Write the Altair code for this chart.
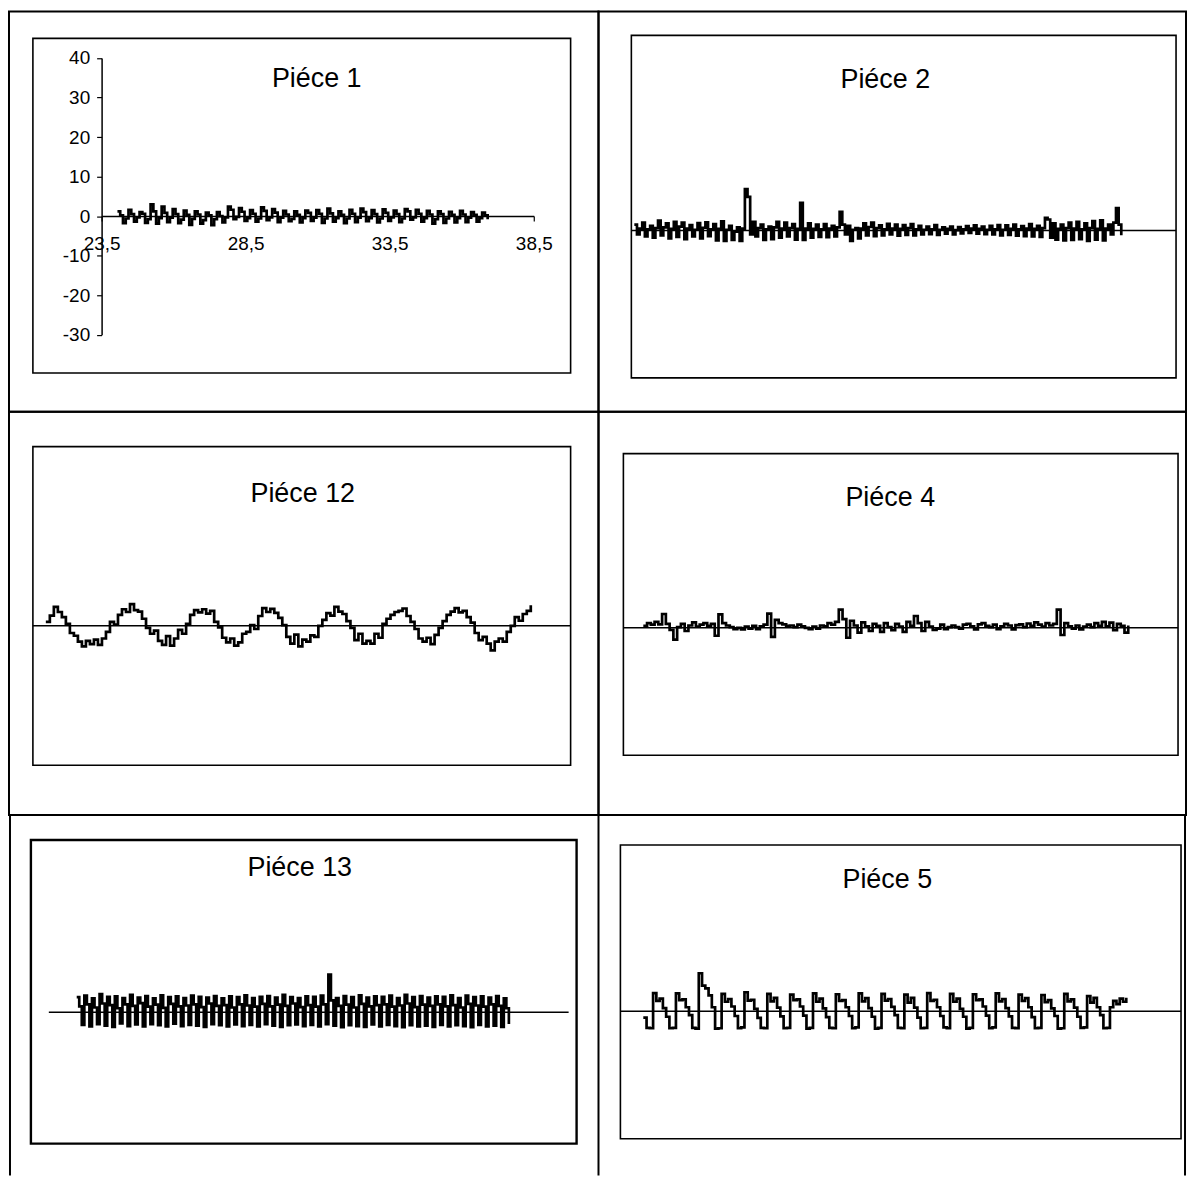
import altair as alt
import pandas as pd

FONT = "Liberation Sans"
TITLES = ["Piéce 1", "Piéce 2", "Piéce 12", "Piéce 4", "Piéce 13", "Piéce 5"]

# Pièce 1: measured deviation along 24.05 .. 36.9 (x in mm)
P1_X_START, P1_X_END = 24.05, 36.9
P1_TICKS_X = [23.5, 28.5, 33.5, 38.5]
P1_TICKS_Y = [-30, -20, -10, 0, 10, 20, 30, 40]
P1 = [1.2, 0.2, -1.8, -0.6, 1.6, 0.5, -1.4, -0.3, 1.0, 0.6, -1.7, -0.8,
      3.0, 1.2, -1.9, -0.5, 2.4, 0.8, -1.5, -0.4, 1.8, 0.5, -1.8, -0.9,
      1.4, 0.3, -2.2, -0.7, 1.2, 0.4, -1.9, -1.0, 0.9, 0.2, -2.3, -0.8,
      1.0, 0.0, -1.6, -0.3, 2.4, 1.6, -0.8, -0.2, 2.0, 1.1, -1.2, -0.5,
      1.5, 0.6, -1.4, -0.6, 2.2, 1.3, -1.0, -0.3, 1.8, 0.9, -1.5, -0.4,
      1.3, 0.4, -1.3, -0.7, 1.2, 0.3, -1.6, -0.5, 1.4, 0.8, -1.2, -0.4,
      1.5, 0.6, -1.7, -0.6, 1.9, 0.7, -1.4, -0.5, 1.2, 0.3, -1.8, -0.6,
      1.6, 0.6, -1.5, -0.4, 1.9, 1.0, -1.3, -0.5, 1.5, 0.5, -1.6, -0.6,
      1.7, 0.8, -1.2, -0.3, 1.4, 0.5, -1.5, -0.6, 1.8, 1.2, -0.9, -0.3,
      1.6, 0.6, -1.4, -0.5, 1.3, 0.4, -1.9, -0.8, 1.2, 0.5, -1.7, -0.6,
      1.1, 0.3, -1.6, -0.5, 1.3, 0.4, -1.5, -0.4, 1.0, 0.3, -1.4, -0.5,
      0.9, 0.2, -0.8]

P2 = [1.5, -1.0, 0.5, 2.0, -1.5, 0.3, 1.2, -1.8, 0.6, 2.5, -1.2, 0.8,
      1.8, -2.0, 0.4, 2.2, -1.6, 1.0, 2.0, -2.2, 0.5, 1.4, -1.5, 0.2,
      1.9, -2.0, 0.7, 2.1, -1.4, 0.3, 1.6, -2.5, 0.4, 2.3, -2.6, 0.2,
      1.2, -2.4, -0.3, 0.8, -2.6, 0.5, 10.5, 8.5, -1.0,
      2.2, -1.5, 0.6, 1.5, -2.4, 0.3, 1.0, -2.2, 0.8, 2.2, -1.8, 0.5,
      2.0, -1.5, 0.6, 1.6, -2.3, 0.4, 7.0, -2.4, 0.5,
      1.8, -1.8, 0.4, 1.5, -1.6, 0.3, 1.6, -1.7, 0.5, 1.2, -1.5, 0.8,
      4.7, 1.5, -1.0,
      1.2, -2.6, 0.2, 0.6, -2.0, 0.5, 1.8, -1.2, 0.9, 2.0, -1.4, 0.6,
      1.3, -1.2, 0.3, 1.7, -1.0, 0.5, 1.5, -1.3, 0.4, 1.4, -1.1, 0.6,
      1.6, -1.2, 0.3,
      1.2, -1.0, 0.2, 1.0, -0.9, 0.3, 1.4, -1.1, 0.2, 0.8, -0.8, 0.4,
      1.0, -1.0, 0.1, 0.9, -0.7, 0.3, 1.1, -0.6, 0.5, 1.3, -0.8, 0.4,
      1.0, -0.9, 0.2, 1.2, -1.0, 0.3, 1.4, -1.2, 0.2, 1.3, -1.1, 0.4,
      1.5, -1.3, 0.3, 1.1, -1.4, 0.5,
      1.6, -1.5, 0.4, 1.2, -1.6, 0.6, 3.2, 2.8, -1.8,
      1.8, -2.3, 0.4, 1.5, -2.5, 0.6, 2.0, -2.4, 0.5, 2.2, -2.2, 0.3,
      1.8, -2.6, 0.6, 2.4, -2.3, 0.4, 2.6, -2.5, 0.5, 1.5, -1.0, 2.0,
      5.7, 1.5, -1.2]

P12 = [1.0, 2.6, 4.8, 3.5, 2.2, 0.5, -1.8, -2.5, -4.0,
       -5.2, -3.8, -4.6, -3.5, -4.8, -3.2, -1.5, 1.0, 0.3,
       2.8, 4.2, 3.5, 5.5, 4.0, 3.6, 1.8, -0.5,
       -2.0, -1.2, -3.8, -4.8, -2.6, -5.0, -3.2, -1.0,
       -2.0, 0.5, 2.8, 4.0, 3.4, 4.2, 3.1, 3.8,
       1.0, -0.4, -3.0, -4.2, -3.2, -5.0, -4.2, -2.0,
       -1.5, 0.2, -0.8, 2.5, 4.5, 3.5, 4.3, 3.3,
       2.0, 0.2, -2.8, -4.5, -2.2, -5.2, -3.5, -4.0,
       -2.4, -2.8, 0.0, 1.5, 3.2, 2.6, 4.8, 3.6,
       3.0, 1.2, -0.5, -3.6, -2.0, -4.5, -3.8, -4.5,
       -2.0, -3.0, 0.5, 1.8, 2.8, 3.5, 3.8, 4.4,
       2.5, 1.0, -0.8, -3.2, -4.0, -3.0, -4.6, -2.3,
       -0.5, 1.2, 2.8, 3.6, 4.5, 3.4, 3.8, 2.2,
       0.8, -1.8, -3.6, -2.8, -4.5, -6.2, -4.0, -3.2,
       -4.0, -1.5, 0.0, 2.2, 1.3, 3.0, 3.8, 5.2]

P4 = [0.5, 1.2, 0.8, 1.5, 0.9, 3.5, 1.0, -0.5, -3.0, 0.2,
      1.0, -0.8, 0.6, 1.4, 0.3, 0.8, 1.2, 0.5, 1.0, -2.0,
      3.4, 1.2, 0.6, 0.2, -0.3, 0.0, -0.4, 0.3, -0.2, 0.5,
      -0.3, 0.4, 0.8, 3.6, -2.3, 2.0, 1.2, 0.9, 0.5, 0.6,
      0.2, 0.8, 0.4, 0.0, -0.3, 0.3, -0.2, 0.6, 0.4, 1.2,
      0.8, 1.5, 4.6, 2.2, -2.5, 1.8, 0.6, -1.2, 1.4, 0.4,
      -0.8, 1.0, 0.5, -1.0, 1.2, 0.2, -0.6, 1.0, 0.3, -1.0,
      1.5, 0.5, 3.0, 1.2, -0.8, 1.5, 0.3, -0.5, -0.2, 0.8,
      -0.3, 0.2, 0.6, 0.2, -0.2, 0.8, 1.0, 0.4, -0.4, 0.9,
      1.2, 0.5, 0.2, 0.8, -0.3, 0.4, 1.0, 0.6, -0.4, 0.7,
      0.9, 0.2, 1.1, 0.5, 1.4, 0.8, 0.3, 1.2, 0.6, 1.0,
      4.6, -1.8, 1.2, 0.4, -0.2, 0.6, -0.4, 0.3, 0.8, 0.2,
      1.2, 0.5, 1.5, 0.4, 1.3, -0.6, 1.0, 0.5, -1.2, 0.6]

P13 = [3.8, 1.5, -3.2, 4.2, 2.0, -3.6, 3.5, 1.2, -3.0, 4.6, 2.2, -3.4, 3.9, 1.8, -3.7,
       4.0, 1.0, -2.8, 3.6, 2.0, -3.5, 4.4, 1.6, -3.1, 3.7, 2.3, -3.6, 4.1, 1.4, -3.0,
       3.5, 1.9, -3.3, 4.3, 1.1, -3.6, 3.8, 2.1, -2.9, 4.0, 1.5, -3.5, 3.6, 1.7, -3.2,
       4.2, 2.0, -3.4, 3.9, 1.3, -3.7, 3.7, 2.2, -3.0, 4.1, 1.6, -3.3, 3.5, 1.8, -3.6,
       4.0, 1.2, -3.1, 3.8, 2.0, -3.5, 4.3, 1.7, -3.2, 3.6, 1.4, -3.6, 3.9, 2.1, -3.0,
       4.1, 1.5, -3.4, 3.7, 1.9, -3.7, 4.4, 1.6, -3.3, 3.8, 2.2, -3.1, 3.6, 1.3, -3.5,
       4.0, 1.8, -3.2, 3.9, 1.4, -3.6, 4.2, 2.0, -3.0, 9.5, 3.0, -3.4,
       3.6, 1.6, -3.8, 4.1, 1.9, -3.3, 3.8, 1.2, -3.5, 4.3, 2.1, -3.7, 3.7, 1.5, -3.1,
       4.0, 1.8, -3.6, 3.9, 2.0, -3.2, 4.2, 1.4, -3.5, 3.6, 1.7, -3.8, 4.4, 2.2, -3.3,
       3.8, 1.3, -3.6, 4.1, 1.9, -3.4, 3.7, 1.6, -3.7, 4.0, 2.0, -3.2, 3.9, 1.5, -3.6,
       4.3, 1.8, -3.3, 3.6, 1.2, -3.5, 4.2, 2.1, -3.8, 3.8, 1.7, -3.2, 4.0, 1.4, -3.6,
       3.7, 2.0, -3.4, 4.1, 1.6, -3.7, 3.5, 1.0, -3.0]

P5 = [-1.6, -4.2, -4.3,
      4.6, 2.6, 3.2, 0.8, -1.4, -4.3, -4.2,
      4.5, 2.8, 3.0, 1.0, -1.0, -4.2, -4.4,
      9.6, 6.5, 5.8, 4.0, 1.0, -4.4, -4.3,
      4.4, 2.4, 3.1, 1.2, -1.2, -4.3, -4.1,
      4.8, 2.7, 2.9, 0.6, -1.7, -4.2, -4.3,
      4.4, 2.5, 3.4, 0.9, -1.3, -4.3, -4.2,
      4.2, 2.8, 3.0, 1.2, -1.1, -4.4, -4.2,
      4.5, 2.4, 3.2, 0.7, -1.5, -4.2, -4.3,
      4.3, 2.6, 2.8, 1.0, -1.2, -4.3, -4.1,
      4.5, 2.5, 3.3, 0.8, -1.4, -4.4, -4.2,
      4.4, 2.7, 3.1, 1.1, -1.0, -4.2, -4.3,
      4.2, 2.2, 3.4, 0.9, -1.6, -4.3, -4.2,
      4.6, 2.6, 2.9, 1.0, -1.2, -4.1, -4.3,
      4.4, 2.4, 3.2, 0.6, -1.4, -4.4, -4.2,
      4.3, 2.8, 3.0, 1.2, -1.1, -4.3, -4.1,
      4.5, 2.5, 3.1, 0.8, -1.3, -4.2, -4.3,
      4.2, 2.6, 3.3, 1.0, -1.5, -4.3, -4.2,
      4.1, 2.3, 2.8, 0.7, -1.2, -4.4, -4.3,
      4.4, 2.5, 3.0, 0.9, -1.4, -4.2, -4.1,
      3.8, 2.2, 3.4, 1.0, -1.0, -4.3, -4.2,
      1.0, 2.6, 1.8, 3.2, 2.4, 3.4]

PX = 3.97  # pixels per unit, same for every panel
ONE = pd.DataFrame({"k": [0]})


def panel(values, title, w, h, box, y0, xrange, zero_x, title_xy,
          interp="step-after", first=False, edges=(), cell_stroke="black",
          frame_width=1.6):
    n = len(values)
    if first:
        step = (P1_X_END - P1_X_START) / (n - 1)
        xs = [P1_X_START + i * step for i in range(n)]
        xscale = alt.Scale(domain=[23.5, 38.5], range=xrange, nice=False, zero=False)
        xaxis = alt.Axis(values=P1_TICKS_X, orient="bottom", offset=y0 - h,
                         labelExpr="replace(format(datum.value, '.1f'), '.', ',')",
                         grid=False, tickSize=5, tickColor="black", tickWidth=1.2,
                         domainColor="black", domainWidth=1.5, labelFont=FONT,
                         labelFontSize=19, labelColor="black", labelPadding=14,
                         labelFlush=False, labelOverlap=False, title=None)
        yaxis = alt.Axis(values=P1_TICKS_Y, orient="left", offset=-xrange[0],
                         labelExpr="'' + datum.value", grid=False, tickSize=5,
                         tickColor="black", tickWidth=1.2, domainColor="black",
                         domainWidth=1.5, labelFont=FONT, labelFontSize=19,
                         labelColor="black", labelPadding=7, labelFlush=False,
                         labelOverlap=False, title=None)
    else:
        xs = list(range(n))
        xscale = alt.Scale(domain=[0, n - 1], range=xrange, nice=False, zero=False)
        xaxis = None
        yaxis = None
    df = pd.DataFrame({"x": xs, "y": values})
    yscale = alt.Scale(domain=[-30, 40], range=[y0 + 30 * PX, y0 - 40 * PX],
                       nice=False, zero=False)

    frame = alt.Chart(ONE).mark_rect(fillOpacity=0, stroke="black",
                                     strokeWidth=frame_width).encode(
        x=alt.value(box[0]), x2=alt.value(box[1]), y=alt.value(box[2]), y2=alt.value(box[3]))
    label = alt.Chart(pd.DataFrame({"t": [title]})).mark_text(
        font=FONT, fontSize=27, color="black", align="center", baseline="middle").encode(
        x=alt.value(title_xy[0]), y=alt.value(title_xy[1]), text="t:N")
    trace = alt.Chart(df).mark_line(color="black", strokeWidth=2.7, interpolate=interp,
                                    strokeJoin="miter").encode(
        x=alt.X("x:Q", scale=xscale, axis=xaxis),
        y=alt.Y("y:Q", scale=yscale, axis=yaxis))
    layers = [frame, label]
    if not first:
        zero = alt.Chart(ONE).mark_rule(color="black", strokeWidth=1.5).encode(
            y=alt.Y(datum=0, axis=None), x=alt.value(zero_x[0]), x2=alt.value(zero_x[1]))
        layers.append(zero)
    layers.append(trace)
    for ex in edges:
        layers.append(alt.Chart(ONE).mark_rule(color="black", strokeWidth=2).encode(
            x=alt.value(ex), y=alt.value(0), y2=alt.value(h)))
    return alt.layer(*layers).properties(
        width=w, height=h,
        view=alt.ViewConfig(stroke=cell_stroke, strokeWidth=2))


W1, W2 = 592, 590
H1, H2, H3 = 402, 405, 362

c1 = panel(P1, TITLES[0], W1, H1, (24, 564, 27, 363), 205.5, [93, 527], None,
           (309, 68), first=True)
c2 = panel(P2, TITLES[1], W2, H1, (33, 580, 24, 368), 220, [36, 525], (33, 580),
           (288, 69))
c3 = panel(P12, TITLES[2], W1, H2, (24, 564, 35, 355), 215, [37, 524], (24, 564),
           (295, 83))
c4 = panel(P4, TITLES[3], W2, H2, (25, 582, 42, 345), 217, [45, 532], (25, 582),
           (293, 87))
c5 = panel(P13, TITLES[4], W1, H3, (22, 570, 25, 330), 198, [68, 502], (40, 562),
           (292, 53), edges=(1, W1), cell_stroke="transparent", frame_width=2.4)
c6 = panel(P5, TITLES[5], W2, H3, (22, 585, 30, 325), 197, [45, 530], (22, 585),
           (290, 65), edges=(W2 - 1,), cell_stroke="transparent")

chart = alt.concat(c1, c2, c3, c4, c5, c6, columns=2, spacing=0, bounds="flush").properties(
    padding=0, background="white")

chart.save("out.html", embed_options={"renderer": "svg", "actions": False})
